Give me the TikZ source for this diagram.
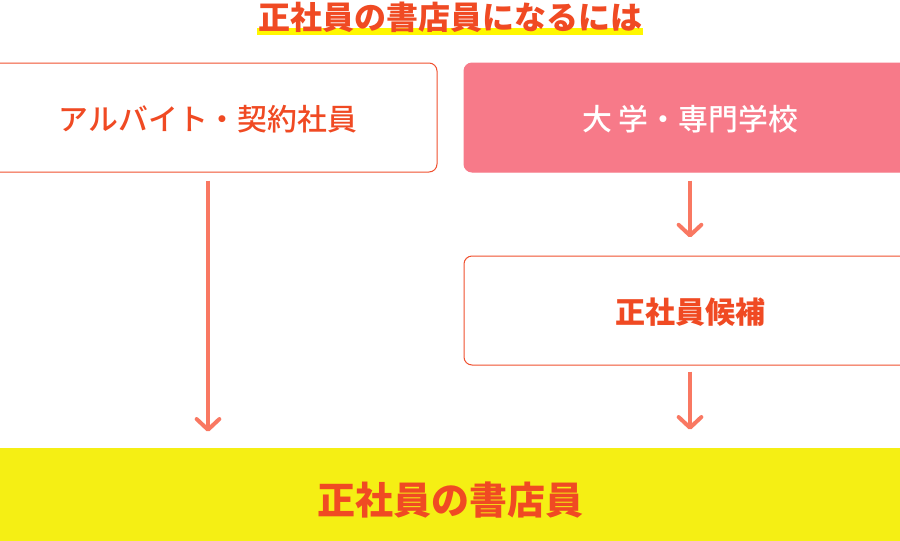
\documentclass[tikz,border=0pt]{standalone}
\usepackage{fontspec}
\setmainfont{Noto Sans CJK JP}
\newfontfamily\jpmedium{Noto Sans CJK JP Medium}
\usepackage{tikz}
\usetikzlibrary{arrows.meta}
\definecolor{textred}{HTML}{F04A23}
\definecolor{boxred}{HTML}{F0502F}
\definecolor{arrowred}{HTML}{F97862}
\definecolor{pinkfill}{HTML}{F77A89}
\definecolor{bandyellow}{HTML}{F5EF14}
\definecolor{markyellow}{HTML}{FFF700}
\newcommand{\lowtext}[1]{\raisebox{-1.5pt}[\height][\depth]{#1}}
\tikzset{>/.tip={Straight Barb[length=8pt,width=17pt,round]}}

\begin{document}
\begin{tikzpicture}[x=0.75pt,y=-0.75pt,
  box/.style={draw=boxred, line width=0.75pt, rounded corners=6pt, fill=white,
    text=textred, inner sep=0pt, minimum height=81.75pt,
    font=\jpmedium\fontsize{22.4}{26}\selectfont},
  flow/.style={->, draw=arrowred, line width=3pt}]
\clip (0,0) rectangle (900,540);
\fill[white] (0,0) rectangle (900,540);
\fill[markyellow] (257,28) rectangle (643,35);
\node[text=textred, font=\fontsize{24}{28}\bfseries] (title) at (450,17) {正社員の書店員になるには};
\node[box, minimum width=343.5pt] (alba) at (208,117.5) {\lowtext{アルバイト・契約社員}};
\node[box, minimum width=339pt, fill=pinkfill, draw=pinkfill, text=white] (school) at (690,117.5) {\lowtext{大 学・専門学校}};
\node[box, minimum width=339pt, font=\fontsize{22.5}{26}\bfseries] (cand) at (690,310.5) {\lowtext{正社員候補}};
\node[fill=bandyellow, text=textred, inner sep=0pt, minimum width=675pt, minimum height=78pt,
  font=\fontsize{28.5}{32}\bfseries] (goal) at (450,500) {正社員の書店員};
\draw[flow, shorten <=6pt, shorten >=12pt] (alba.south) -- (alba.south |- goal.north);
\draw[flow, shorten <=6pt, shorten >=13.5pt] (school.south) -- (cand.north);
\draw[flow, shorten <=4.5pt, shorten >=13.5pt] (cand.south) -- (cand.south |- goal.north);
\end{tikzpicture}
\end{document}
